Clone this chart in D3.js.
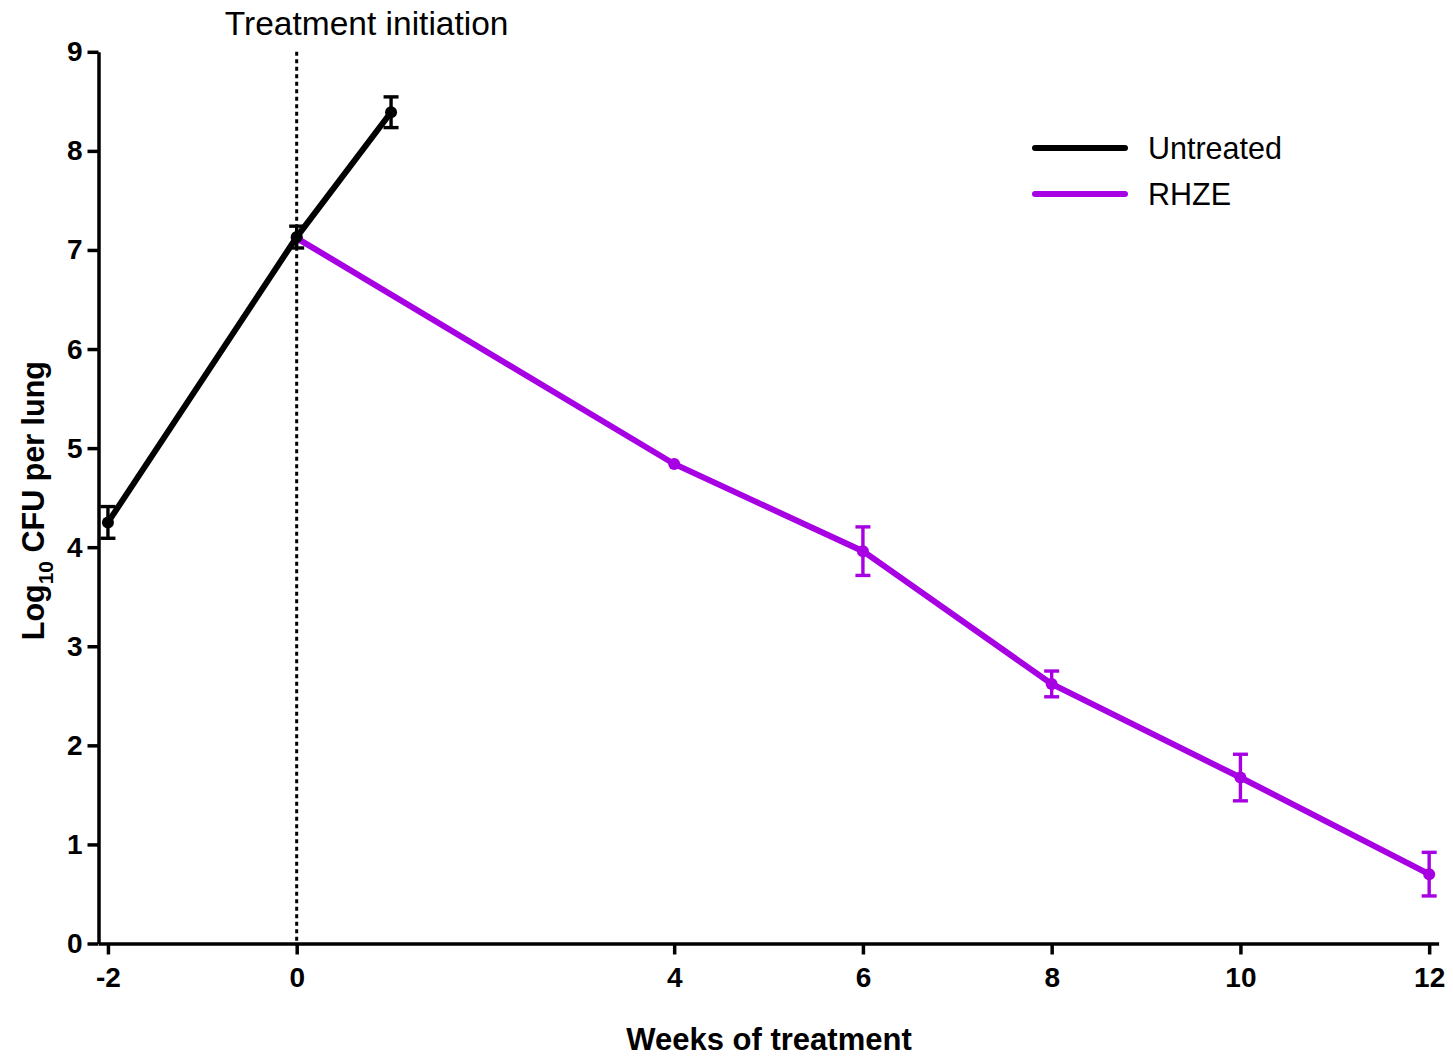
<!DOCTYPE html>
<html>
<head>
<meta charset="utf-8">
<script src="https://cdn.jsdelivr.net/npm/d3@7"></script>
<style>
  body { margin: 0; background: #fff; }
  svg { font-family: Arial, "Liberation Sans", Helvetica, sans-serif; }
</style>
</head>
<body>
<svg id="chart" width="1453" height="1059"></svg>
<script>
// weeks of treatment
const untreatedWeeks = [-2, 0, 1];
const untreatedMean = [4.25, 7.13, 8.39];
const untreatedErr = [0.16, 0.11, 0.155];

const rhzeWeeks = [0, 4, 6, 8, 10, 12];
const rhzeMean = [7.12, 4.84, 3.96, 2.62, 1.675, 0.70];
const rhzeErr = [0.01, 0.01, 0.245, 0.13, 0.235, 0.22];

const xTicks = [-2, 0, 4, 6, 8, 10, 12];
const yTicks = [0, 1, 2, 3, 4, 5, 6, 7, 8, 9];

const seriesNames = ["Untreated", "RHZE"];
const seriesColors = ["#000000", "#a600e3"];

const toPoints = (weeks, mean, err) =>
  weeks.map((w, i) => ({ x: w, y: mean[i], e: err[i] }));

const series = [
  { name: seriesNames[1], color: seriesColors[1], pts: toPoints(rhzeWeeks, rhzeMean, rhzeErr) },
  { name: seriesNames[0], color: seriesColors[0], pts: toPoints(untreatedWeeks, untreatedMean, untreatedErr) }
];

const svg = d3.select("#chart");

const x = d3.scaleLinear().domain([-2.1, 12.1]).range([98.5, 1438.6]);
const y = d3.scaleLinear().domain([0, 9]).range([943.5, 51.8]);

// dotted line at treatment start
svg.append("line")
    .attr("x1", x(0)).attr("x2", x(0))
    .attr("y1", y(9)).attr("y2", y(0))
    .attr("stroke", "#000")
    .attr("stroke-width", 3)
    .attr("stroke-dasharray", "4,3.5");

svg.append("text")
    .attr("x", x(0) + 70).attr("y", 35)
    .attr("text-anchor", "middle")
    .style("font-size", "33.5px")
    .text("Treatment initiation");

// axes
const intFmt = d => String(d); // plain hyphen for negatives
const styleAxis = (g) => {
  g.select(".domain").attr("stroke-width", 3.5);
  g.selectAll(".tick line").attr("stroke-width", 3.5);
  g.selectAll(".tick text")
      .style("font-size", "28px")
      .style("font-weight", "bold")
      .style("font-family", "Arial, 'Liberation Sans', sans-serif")
      .attr("fill", "#000");
};

svg.append("g")
    .attr("transform", `translate(0,${y(0)})`)
    .call(d3.axisBottom(x).tickValues(xTicks).tickSize(11).tickSizeOuter(0).tickPadding(13).tickFormat(intFmt))
    .call(styleAxis);

svg.append("g")
    .attr("transform", `translate(${x(-2.1)},0)`)
    .call(d3.axisLeft(y).tickValues(yTicks).tickSize(11).tickSizeOuter(0).tickPadding(5).tickFormat(intFmt))
    .call(styleAxis);

// axis titles
svg.append("text")
    .attr("x", 769).attr("y", 1050)
    .attr("text-anchor", "middle")
    .style("font-size", "31px")
    .style("font-weight", "bold")
    .text("Weeks of treatment");

const yTitle = svg.append("text")
    .attr("transform", `translate(44,${y(4.5) + 3}) rotate(-90)`)
    .attr("text-anchor", "middle")
    .style("font-size", "30.5px")
    .style("font-weight", "bold");
yTitle.append("tspan").text("Log");
yTitle.append("tspan").attr("dy", 9).style("font-size", "21px").text("10");
yTitle.append("tspan").attr("dy", -9).text(" CFU per lung");

// series
const line = d3.line().x(d => x(d.x)).y(d => y(d.y));

series.forEach(s => {
  const g = svg.append("g");
  g.append("path")
      .datum(s.pts)
      .attr("fill", "none")
      .attr("stroke", s.color)
      .attr("stroke-width", 6)
      .attr("d", line);

  const bars = g.selectAll(".err").data(s.pts).enter().append("g")
      .attr("stroke", s.color)
      .attr("stroke-width", 3.4);
  bars.append("line")
      .attr("x1", d => x(d.x)).attr("x2", d => x(d.x))
      .attr("y1", d => y(d.y - d.e)).attr("y2", d => y(d.y + d.e));
  bars.filter(d => d.e > 0.05).append("line")
      .attr("x1", d => x(d.x) - 7.5).attr("x2", d => x(d.x) + 7.5)
      .attr("y1", d => y(d.y + d.e)).attr("y2", d => y(d.y + d.e));
  bars.filter(d => d.e > 0.05).append("line")
      .attr("x1", d => x(d.x) - 7.5).attr("x2", d => x(d.x) + 7.5)
      .attr("y1", d => y(d.y - d.e)).attr("y2", d => y(d.y - d.e));

  g.selectAll("circle").data(s.pts).enter().append("circle")
      .attr("cx", d => x(d.x)).attr("cy", d => y(d.y))
      .attr("r", 6)
      .attr("fill", s.color);
});

// legend
const legend = svg.append("g");
seriesNames.forEach((name, i) => {
  const ly = 148 + i * 46;
  legend.append("line")
      .attr("x1", 1035).attr("x2", 1125)
      .attr("y1", ly).attr("y2", ly)
      .attr("stroke", seriesColors[i])
      .attr("stroke-width", 6)
      .attr("stroke-linecap", "round");
  legend.append("text")
      .attr("x", 1148).attr("y", ly + 11)
      .style("font-size", "30.5px")
      .text(name);
});
</script>
</body>
</html>
